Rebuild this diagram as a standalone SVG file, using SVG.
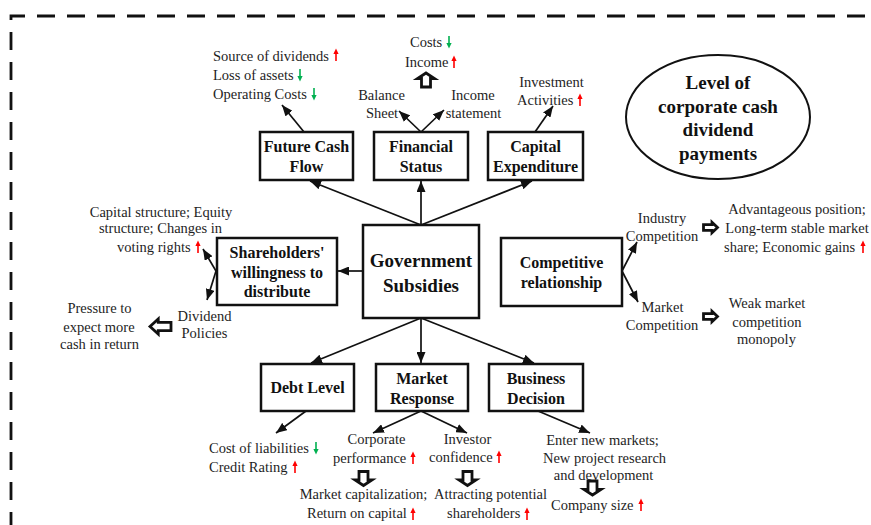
<svg xmlns="http://www.w3.org/2000/svg" xmlns:xlink="http://www.w3.org/1999/xlink" width="871" height="525" viewBox="0 0 871 525">
  <style>
    .t { font-family: "Liberation Serif", "Times New Roman", serif; font-size: 14.5px; fill: #1e1e1e; }
    .m { text-anchor: middle; }
    .b { font-family: "Liberation Serif", "Times New Roman", serif; font-weight: bold; font-size: 16px; fill: #111; text-anchor: middle; }
    .big { font-size: 19px; }
    .box { fill: #fff; stroke: #111; stroke-width: 2.5; }
    .conn { fill: none; stroke: #111; stroke-width: 1.7; marker-end: url(#ah); }
    .blk { fill: #fff; stroke: #111; stroke-width: 2.8; }
  </style>
  <defs>
    <marker id="ah" viewBox="0 0 11 9" refX="11" refY="4.5" markerWidth="11" markerHeight="9" markerUnits="userSpaceOnUse" orient="auto">
      <path d="M0,0 L11,4.5 L0,9 Z" fill="#111"/>
    </marker>
    <!-- hollow block arrow pointing up, centred on the origin -->
    <path id="blk" d="M0,-7 L8.5,-1.5 L4.5,-1.5 L4.5,7 L-4.5,7 L-4.5,-1.5 L-8.5,-1.5 Z" vector-effect="non-scaling-stroke" stroke-linejoin="miter"/>
    <!-- small red "increase" arrow -->
    <g id="ru">
      <path d="M0,6 V-2" stroke="#f00" stroke-width="1.6"/>
      <path d="M-2.6,-1 L0,-6.5 L2.6,-1 Z" fill="#f00"/>
    </g>
    <!-- small green "decrease" arrow -->
    <g id="gd">
      <path d="M0,-6 V2" stroke="#00b050" stroke-width="1.6"/>
      <path d="M-2.6,1 L0,6.5 L2.6,1 Z" fill="#00b050"/>
    </g>
  </defs>

  <rect width="871" height="525" fill="#fff"/>

  <!-- dashed frame -->
  <path d="M11,525 V16 H871" fill="none" stroke="#111" stroke-width="2.8" stroke-dasharray="18 12" stroke-dashoffset="5"/>

  <!-- connectors -->
  <g id="connectors">
    <path class="conn" d="M421,225 L310,181"/>
    <path class="conn" d="M421,225 L421,181"/>
    <path class="conn" d="M421,225 L532,181"/>
    <path class="conn" d="M363,271 L338,271"/>
    <path class="conn" d="M421,318 L311,363"/>
    <path class="conn" d="M421,318 L421,363"/>
    <path class="conn" d="M421,318 L534,363"/>
    <path class="conn" d="M304,132 L282,105"/>
    <path class="conn" d="M421,132 L399,111"/>
    <path class="conn" d="M421,132 L444,110"/>
    <path class="conn" d="M535,132 L553,106"/>
    <path class="conn" d="M216,271 L203,249"/>
    <path class="conn" d="M216,271 L207,300"/>
    <path class="conn" d="M622,271 L637,242"/>
    <path class="conn" d="M622,271 L638,302"/>
    <path class="conn" d="M306,411 L276,433"/>
    <path class="conn" d="M421,411 L373,433"/>
    <path class="conn" d="M421,411 L467,433"/>
    <path class="conn" d="M538,411 L590,433"/>
    <!-- hollow block arrows -->
    <use xlink:href="#blk" class="blk" transform="translate(426,80)"/>
    <use xlink:href="#blk" class="blk" transform="translate(160.5,326.5) rotate(-90) scale(0.9,1.5)"/>
    <use xlink:href="#blk" class="blk" transform="translate(710.5,227.5) rotate(90) scale(0.62,1.0)"/>
    <use xlink:href="#blk" class="blk" transform="translate(710.5,316.5) rotate(90) scale(0.62,1.0)"/>
    <use xlink:href="#blk" class="blk" transform="translate(363.5,478.5) rotate(180)"/>
    <use xlink:href="#blk" class="blk" transform="translate(467.5,478.5) rotate(180)"/>
    <use xlink:href="#blk" class="blk" transform="translate(592.5,488) rotate(180)"/>
  </g>

  <!-- main nodes -->
  <g id="gov">
    <rect class="box" x="363" y="225" width="116" height="93"/>
    <text class="b big" x="421" y="266.5">Government</text>
    <text class="b big" x="421" y="291.5">Subsidies</text>
  </g>
  <g id="future-cash-flow">
    <rect class="box" x="260" y="132" width="93" height="48"/>
    <text class="b" x="306.5" y="151.5">Future Cash</text>
    <text class="b" x="306.5" y="171.5">Flow</text>
  </g>
  <g id="financial-status">
    <rect class="box" x="374" y="132" width="94" height="48"/>
    <text class="b" x="421" y="151.5">Financial</text>
    <text class="b" x="421" y="171.5">Status</text>
  </g>
  <g id="capital-expenditure">
    <rect class="box" x="488" y="132" width="95" height="48"/>
    <text class="b" x="535.5" y="151.5">Capital</text>
    <text class="b" x="535.5" y="171.5">Expenditure</text>
  </g>
  <g id="shareholders">
    <rect class="box" x="217" y="238" width="120" height="67"/>
    <text class="b" x="277" y="257.5">Shareholders'</text>
    <text class="b" x="277" y="277.5">willingness to</text>
    <text class="b" x="277" y="296.5">distribute</text>
  </g>
  <g id="competitive">
    <rect class="box" x="501" y="238" width="121" height="68"/>
    <text class="b" x="561.5" y="267.5">Competitive</text>
    <text class="b" x="561.5" y="287.5">relationship</text>
  </g>
  <g id="debt-level">
    <rect class="box" x="261" y="364" width="93" height="47"/>
    <text class="b" x="307.5" y="393">Debt Level</text>
  </g>
  <g id="market-response">
    <rect class="box" x="376" y="364" width="92" height="47"/>
    <text class="b" x="422" y="383.5">Market</text>
    <text class="b" x="422" y="403.5">Response</text>
  </g>
  <g id="business-decision">
    <rect class="box" x="489" y="364" width="94" height="47"/>
    <text class="b" x="536" y="383.5">Business</text>
    <text class="b" x="536" y="403.5">Decision</text>
  </g>
  <g id="dividend-level">
    <ellipse cx="718" cy="117" rx="92" ry="62" fill="#fff" stroke="#111" stroke-width="2"/>
    <text class="b big" x="718" y="89">Level of</text>
    <text class="b big" x="718" y="112.5">corporate cash</text>
    <text class="b big" x="718" y="136">dividend</text>
    <text class="b big" x="718" y="159.5">payments</text>
  </g>

  <!-- effect labels -->
  <g id="cash-flow-effects">
    <text class="t" x="213" y="61">Source of dividends</text>
    <text class="t" x="213" y="80">Loss of assets</text>
    <text class="t" x="213" y="99">Operating Costs</text>
    <use xlink:href="#ru" x="336" y="55"/>
    <use xlink:href="#gd" x="300" y="75"/>
    <use xlink:href="#gd" x="314" y="94"/>
  </g>
  <g id="financial-effects">
    <text class="t" x="410" y="47">Costs</text>
    <text class="t" x="405" y="67">Income</text>
    <use xlink:href="#gd" x="449" y="42"/>
    <use xlink:href="#ru" x="454" y="62"/>
    <text class="t m" x="381.5" y="100">Balance</text>
    <text class="t m" x="382" y="118">Sheet</text>
    <text class="t m" x="473" y="100">Income</text>
    <text class="t m" x="473.5" y="118">statement</text>
  </g>
  <g id="capex-effects">
    <text class="t m" x="551.5" y="87">Investment</text>
    <text class="t" x="517" y="105">Activities</text>
    <use xlink:href="#ru" x="580" y="100"/>
  </g>
  <g id="shareholder-effects">
    <text class="t m" x="161" y="217">Capital structure; Equity</text>
    <text class="t m" x="160.5" y="233">structure; Changes in</text>
    <text class="t" x="117" y="252">voting rights</text>
    <use xlink:href="#ru" x="198" y="247"/>
    <text class="t m" x="204.5" y="321">Dividend</text>
    <text class="t m" x="204.5" y="338">Policies</text>
    <text class="t m" x="99.5" y="313">Pressure to</text>
    <text class="t m" x="99" y="332">expect more</text>
    <text class="t m" x="99.5" y="349">cash in return</text>
  </g>
  <g id="competition-effects">
    <text class="t m" x="662" y="223">Industry</text>
    <text class="t m" x="662" y="241">Competition</text>
    <text class="t m" x="797" y="214">Advantageous position;</text>
    <text class="t m" x="797" y="233">Long-term stable market</text>
    <text class="t" x="724" y="252">share; Economic gains</text>
    <use xlink:href="#ru" x="863" y="247"/>
    <text class="t m" x="662.5" y="312">Market</text>
    <text class="t m" x="662" y="330">Competition</text>
    <text class="t m" x="767" y="308">Weak market</text>
    <text class="t m" x="767" y="327">competition</text>
    <text class="t m" x="766.5" y="344">monopoly</text>
  </g>
  <g id="debt-effects">
    <text class="t" x="209" y="453">Cost of liabilities</text>
    <text class="t" x="209" y="472">Credit Rating</text>
    <use xlink:href="#gd" x="316" y="448"/>
    <use xlink:href="#ru" x="295" y="467"/>
  </g>
  <g id="market-effects">
    <text class="t m" x="376.5" y="444">Corporate</text>
    <text class="t" x="333" y="463">performance</text>
    <use xlink:href="#ru" x="413" y="458"/>
    <text class="t m" x="467.5" y="444">Investor</text>
    <text class="t" x="429" y="462">confidence</text>
    <use xlink:href="#ru" x="499" y="457"/>
    <text class="t m" x="363.5" y="499">Market capitalization;</text>
    <text class="t" x="307" y="518">Return on capital</text>
    <use xlink:href="#ru" x="413" y="514"/>
    <text class="t m" x="490.5" y="499">Attracting potential</text>
    <text class="t" x="447" y="518">shareholders</text>
    <use xlink:href="#ru" x="527" y="514"/>
  </g>
  <g id="business-effects">
    <text class="t m" x="602.5" y="445">Enter new markets;</text>
    <text class="t m" x="604.5" y="463">New project research</text>
    <text class="t m" x="603.5" y="480">and development</text>
    <text class="t" x="551" y="510">Company size</text>
    <use xlink:href="#ru" x="641" y="505"/>
  </g>
</svg>
